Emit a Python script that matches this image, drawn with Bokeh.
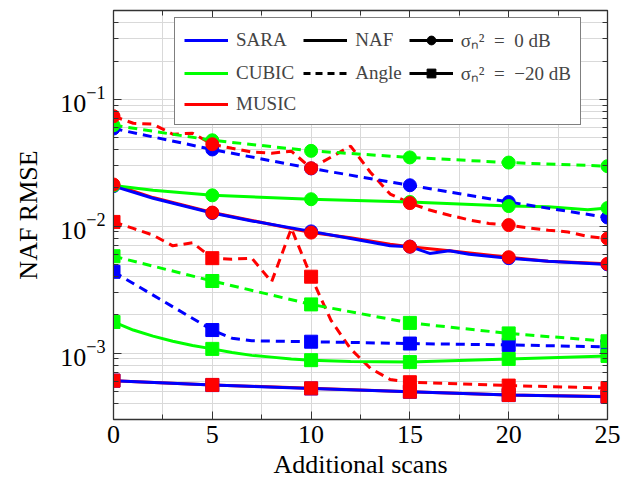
from bokeh.plotting import figure
from bokeh.models import (FixedTicker, LogAxis, LinearAxis, Legend, LegendItem, Range1d)
from bokeh.embed import file_html
from bokeh.resources import INLINE

# ---------------- data ----------------
x_ticks = [0, 5, 10, 15, 20, 25]
x_minor = [2.5, 7.5, 12.5, 17.5, 22.5]
y_ticks = [1e-3, 1e-2, 1e-1]

# sigma_n^2 = 0 dB (circles)
sara_naf_0_x = [0, 2, 5, 7, 10, 12, 14, 15, 16, 17, 18, 20, 22, 25]
sara_naf_0_y = [0.0207, 0.0166, 0.0127, 0.0110, 0.0091, 0.0080, 0.0070, 0.0069,
                0.0061, 0.0064, 0.0060, 0.0056, 0.0053, 0.0050]
music_naf_0_x = [0, 2, 5, 7, 10, 12, 14, 15, 17, 20, 22, 25]
music_naf_0_y = [0.0213, 0.0168, 0.0128, 0.0111, 0.0089, 0.0081, 0.0072, 0.0069,
                 0.0064, 0.0057, 0.0053, 0.00505]
cubic_naf_0_x = [0, 2, 5, 10, 15, 20, 22, 24, 25]
cubic_naf_0_y = [0.0209, 0.0192, 0.0175, 0.0163, 0.0155, 0.0144, 0.0142, 0.0135, 0.0139]

sara_ang_0_x = [0, 5, 10, 15, 20, 25]
sara_ang_0_y = [0.0588, 0.0402, 0.0285, 0.0210, 0.0155, 0.0117]
cubic_ang_0_x = [0, 5, 10, 15, 20, 25]
cubic_ang_0_y = [0.0624, 0.0475, 0.0392, 0.0348, 0.0317, 0.0297]
music_ang_0_x = list(range(26))
music_ang_0_y = [0.0735, 0.0647, 0.0636, 0.0530, 0.0540, 0.0442, 0.0411, 0.0383,
                 0.0376, 0.0390, 0.0286, 0.0349, 0.0427, 0.0266, 0.0179, 0.0152,
                 0.0134, 0.0122, 0.0112, 0.0105, 0.0102, 0.0097, 0.0093, 0.0090,
                 0.0083, 0.0080]

# sigma_n^2 = -20 dB (squares)
sara_naf_20_x = [0, 5, 10, 15, 20, 25]
sara_naf_20_y = [0.000607, 0.000560, 0.000527, 0.000496, 0.000467, 0.000453]
music_naf_20_x = [0, 5, 10, 15, 20, 25]
music_naf_20_y = [0.000607, 0.000562, 0.000528, 0.000497, 0.000468, 0.000455]
cubic_naf_20_x = [0, 1, 2, 3, 4, 5, 6, 7, 8, 9, 10, 12, 15, 20, 25]
cubic_naf_20_y = [0.00176, 0.00152, 0.00136, 0.00124, 0.00115, 0.00108, 0.00101,
                  0.00096, 0.00093, 0.00090, 0.00088, 0.00086, 0.00085, 0.00090, 0.00095]

sara_ang_20_x = [0, 5, 6, 7, 10, 15, 20, 25]
sara_ang_20_y = [0.00437, 0.00152, 0.00131, 0.00125, 0.00123, 0.00119, 0.00116, 0.00112]
cubic_ang_20_x = [0, 5, 10, 15, 20, 25]
cubic_ang_20_y = [0.0058, 0.0037, 0.00242, 0.00173, 0.00143, 0.00124]
music_ang_20_x = [0, 1, 2, 3, 4, 5, 6, 7, 8, 9, 10, 11, 12, 13, 14, 15, 20, 25]
music_ang_20_y = [0.0108, 0.0096, 0.0085, 0.0070, 0.0074, 0.0056, 0.0055, 0.0056,
                  0.00364, 0.0096, 0.0040, 0.00182, 0.00108, 0.00076, 0.00062,
                  0.00059, 0.000555, 0.00053]

legend_labels = ["SARA", "NAF", "σₙ²\u2002=\u20020 dB",
                 "CUBIC", "Angle", "σₙ²\u2002=\u2002−20 dB", "MUSIC"]

BLUE, GREEN, RED = "#0000ff", "#00ff00", "#ff0000"
FONT = "Liberation Serif"
LEG_FONT = "'Liberation Serif', 'Times New Roman', serif"
LW = 3
DASH = "9 6"

series = [
    # (x, y, color, dash, marker)
    (music_naf_0_x, music_naf_0_y, RED, "solid", "circle"),
    (music_ang_0_x, music_ang_0_y, RED, DASH, "circle"),
    (music_naf_20_x, music_naf_20_y, RED, "solid", "square"),
    (music_ang_20_x, music_ang_20_y, RED, DASH, "square"),
    (cubic_naf_0_x, cubic_naf_0_y, GREEN, "solid", "circle"),
    (cubic_ang_0_x, cubic_ang_0_y, GREEN, DASH, "circle"),
    (cubic_naf_20_x, cubic_naf_20_y, GREEN, "solid", "square"),
    (cubic_ang_20_x, cubic_ang_20_y, GREEN, DASH, "square"),
    (sara_naf_0_x, sara_naf_0_y, BLUE, "solid", "circle"),
    (sara_ang_0_x, sara_ang_0_y, BLUE, DASH, "circle"),
    (sara_naf_20_x, sara_naf_20_y, BLUE, "solid", "square"),
    (sara_ang_20_x, sara_ang_20_y, BLUE, DASH, "square"),
]

y_minor = [k * d for d in [1e-4, 1e-3, 1e-2, 1e-1] for k in range(2, 10)]

p = figure(width=621, height=483, y_axis_type="log",
           x_range=Range1d(0, 25), y_range=Range1d(3e-4, 0.5),
           output_backend="svg", toolbar_location=None,
           min_border_left=113, min_border_right=14,
           min_border_top=10, min_border_bottom=64)
p.background_fill_color = "white"
p.border_fill_color = "white"
p.outline_line_color = "#333333"
p.outline_line_width = 1.3

# ticks / grids
p.xaxis.ticker = FixedTicker(ticks=x_ticks, minor_ticks=x_minor)
p.yaxis.ticker = FixedTicker(ticks=y_ticks, minor_ticks=y_minor)
for g in p.grid:
    g.grid_line_color = "#d9d9d9"
    g.grid_line_width = 1
    g.minor_grid_line_color = "#d9d9d9"
    g.minor_grid_line_width = 1

for ax in p.xaxis + p.yaxis:
    ax.major_tick_in = 8
    ax.major_tick_out = 0
    ax.minor_tick_in = 5
    ax.minor_tick_out = 0
    ax.axis_line_color = "#333333"
    ax.major_tick_line_color = "#333333"
    ax.minor_tick_line_color = "#333333"
    ax.major_label_text_font = FONT
    ax.major_label_text_font_size = "26px"
    ax.major_label_text_color = "black"
    ax.axis_label_text_font = FONT
    ax.axis_label_text_font_size = "26px"
    ax.axis_label_text_font_style = "normal"
    ax.axis_label_text_color = "black"
p.xaxis.axis_label = "Additional scans"
p.yaxis.axis_label = "NAF RMSE"
p.xaxis.major_label_standoff = 6
p.yaxis.major_label_standoff = 8
p.xaxis.axis_label_standoff = 4
p.yaxis.axis_label_standoff = 14

# mirrored axes (ticks only, no labels)
top = LinearAxis(ticker=FixedTicker(ticks=x_ticks, minor_ticks=x_minor),
                 major_label_overrides={t: "" for t in x_ticks})
right = LogAxis(ticker=FixedTicker(ticks=y_ticks, minor_ticks=y_minor),
                major_label_overrides={t: "" for t in y_ticks})
for ax in (top, right):
    ax.major_tick_in = 8
    ax.major_tick_out = 0
    ax.minor_tick_in = 5
    ax.minor_tick_out = 0
    ax.axis_line_color = "#333333"
    ax.major_tick_line_color = "#333333"
    ax.minor_tick_line_color = "#333333"
    ax.major_label_standoff = 0
p.add_layout(top, "above")
p.add_layout(right, "right")

# lines
for x, y, c, d, m in series:
    p.line(x, y, line_color=c, line_width=LW, line_dash=d)
# markers (every 5 scans)
for x, y, c, d, m in reversed(series):
    mx = [xx for xx in x if xx % 5 == 0]
    my = [yy for xx, yy in zip(x, y) if xx % 5 == 0]
    p.scatter(mx, my, marker=m, size=13, fill_color=c, line_color=c)

# legend entries
r_sara = p.line([0], [1], line_color=BLUE, line_width=LW, visible=False)
r_naf = p.line([0], [1], line_color="black", line_width=LW, visible=False)
r_s0l = p.line([0], [1], line_color="black", line_width=LW, visible=False)
r_s0m = p.scatter([0], [1], marker="circle", size=13, fill_color="black", line_color="black", visible=False)
r_cubic = p.line([0], [1], line_color=GREEN, line_width=LW, visible=False)
r_ang = p.line([0], [1], line_color="black", line_width=LW, line_dash="7 5", visible=False)
r_s2l = p.line([0], [1], line_color="black", line_width=LW, visible=False)
r_s2m = p.scatter([0], [1], marker="square", size=13, fill_color="black", line_color="black", visible=False)
r_music = p.line([0], [1], line_color=RED, line_width=LW, visible=False)

leg_renderers = [[r_sara], [r_naf], [r_s0l, r_s0m], [r_cubic], [r_ang],
                 [r_s2l, r_s2m], [r_music]]
items = [LegendItem(label=lab, renderers=rs) for lab, rs in zip(legend_labels, leg_renderers)]
leg = Legend(items=items, ncols=3, orientation="horizontal", location=(61, 294),
             label_text_font=LEG_FONT, label_text_font_size="19px",
             glyph_width=44, glyph_height=22, label_standoff=8,
             spacing=7, padding=9, margin=0,
             border_line_color="black", border_line_width=1.2,
             background_fill_color="white", background_fill_alpha=1,
             click_policy="none")
p.add_layout(leg, "center")

open("out.html", "w").write(file_html(p, INLINE))
